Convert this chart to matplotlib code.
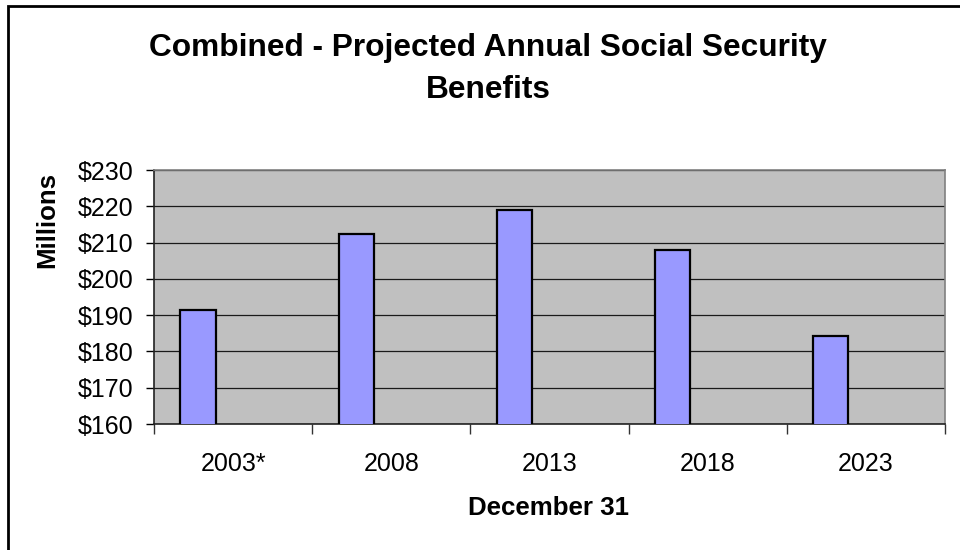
import matplotlib
matplotlib.use("Agg")
import matplotlib.pyplot as plt
from matplotlib.patches import Rectangle
import numpy as np

# Data (millions of dollars)
years = ["2003*", "2008", "2013", "2018", "2023"]
benefits = [191.4, 212.3, 219.0, 207.9, 184.2]
y_ticks = [160, 170, 180, 190, 200, 210, 220, 230]

plt.rcParams["font.family"] = ["Liberation Sans", "DejaVu Sans"]

fig = plt.figure(figsize=(9.6, 5.5), dpi=100)
ax = fig.add_axes([154 / 960, 1 - 424 / 550, (945 - 154) / 960, (424 - 170) / 550])

# Excel-style clustered layout: bar sits in the first of three slots
x = np.arange(len(years))
bar_w = 1 / 4.5
ax.bar(x - 0.5 + 0.75 * bar_w + bar_w / 2, benefits, width=bar_w,
       color="#9999FF", edgecolor="black", linewidth=1.6, zorder=3)

ax.set_facecolor("#C0C0C0")
ax.set_xlim(-0.5, len(years) - 0.5)
ax.set_ylim(160, 230)
ax.set_yticks(y_ticks)
ax.set_yticklabels([f"${v}" for v in y_ticks], fontsize=18)
ax.yaxis.grid(True, color="#1a1a1a", linewidth=0.9, zorder=1)
ax.set_axisbelow(True)

# category labels centred, tick marks on category boundaries
ax.set_xticks(x)
ax.set_xticklabels(years, fontsize=18)
ax.tick_params(axis="x", which="major", length=0, pad=20)
ax.set_xticks(np.arange(-0.5, len(years)), minor=True)
ax.tick_params(axis="x", which="minor", length=7, width=1, color="#333333")
ax.tick_params(axis="y", length=6, width=1, pad=9)

for side in ["top", "right"]:
    ax.spines[side].set_color("#808080")
    ax.spines[side].set_linewidth(1.2)
for side in ["left", "bottom"]:
    ax.spines[side].set_color("#222222")
    ax.spines[side].set_linewidth(1.2)

fig.text(488 / 960, 1 - 56 / 550, "Combined - Projected Annual Social Security",
         ha="center", va="baseline", fontsize=22.8, fontweight="bold")
fig.text(488 / 960, 1 - 98 / 550, "Benefits",
         ha="center", va="baseline", fontsize=22.8, fontweight="bold")
fig.text(549 / 960, 1 - 515 / 550, "December 31",
         ha="center", va="baseline", fontsize=18.6, fontweight="bold")
fig.text(47 / 960, 1 - 220 / 550, "Millions", rotation=90,
         ha="center", va="center", fontsize=18.6, fontweight="bold")

# outer chart border (runs off the right and bottom edges like the original)
fig.patches.append(Rectangle((8 / 960, -0.05), 1.0, 1 - 6 / 550 + 0.05,
                             transform=fig.transFigure, fill=False,
                             edgecolor="black", linewidth=2, zorder=0))

fig.savefig("out.png", dpi=100)
